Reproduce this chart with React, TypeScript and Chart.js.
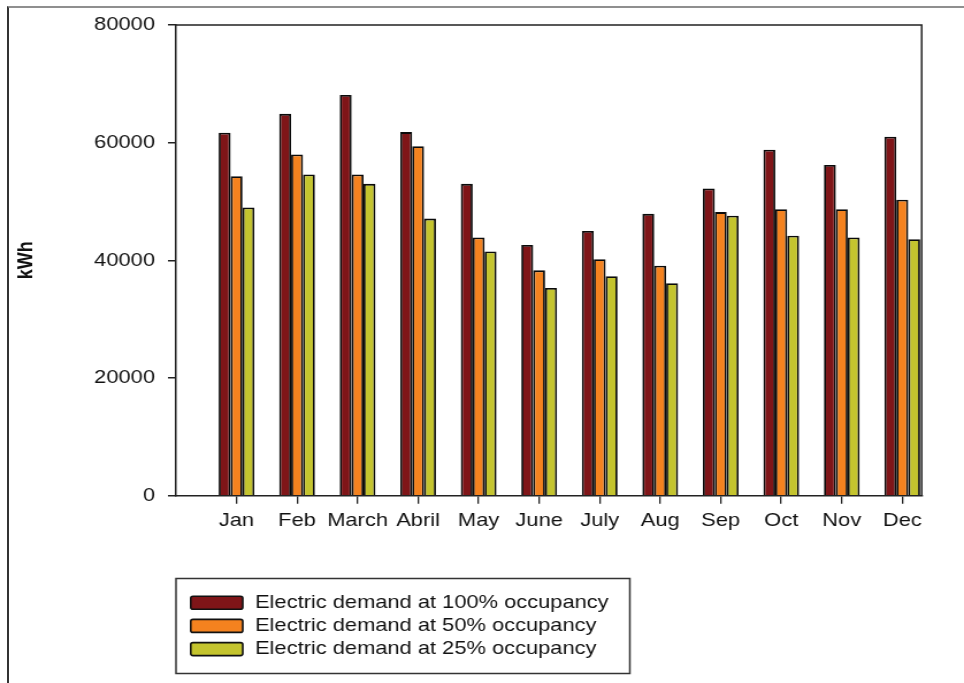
import React, { useEffect, useRef } from 'react';
import { Chart, registerables } from 'chart.js';

Chart.register(...registerables);

const months = ['Jan', 'Feb', 'March', 'Abril', 'May', 'June', 'July', 'Aug', 'Sep', 'Oct', 'Nov', 'Dec'];
const demand100 = [61700, 64900, 68100, 61800, 53000, 42600, 45000, 47900, 52200, 58800, 56200, 61000];
const demand50 = [54300, 58000, 54600, 59400, 43900, 38300, 40200, 39100, 48200, 48700, 48700, 50300];
const demand25 = [49000, 54600, 53000, 47100, 41500, 35300, 37300, 36100, 47600, 44200, 43900, 43600];
const seriesLabels = [
  'Electric demand at 100% occupancy',
  'Electric demand at 50% occupancy',
  'Electric demand at 25% occupancy',
];
const seriesColors = ['#7f1518', '#f4821f', '#c4c42e'];
const yTicks = [0, 20000, 40000, 60000, 80000];
const yTitle = 'kWh';

const FONT = '"Liberation Sans", Arial, sans-serif';
const CANVAS_W = 838;
const CANVAS_H = 683;
const STRETCH = 964 / CANVAS_W;

const boxLegendPlugin = {
  id: 'boxLegend',
  afterDraw(chart: any) {
    const ctx = chart.ctx;
    ctx.save();
    // plot frame top & right
    const { left, top, right, bottom } = chart.chartArea;
    ctx.beginPath();
    ctx.moveTo(left, top);
    ctx.lineTo(right, top);
    ctx.lineTo(right, bottom);
    ctx.strokeStyle = '#222';
    ctx.lineWidth = 1.5;
    ctx.stroke();

    // legend box
    ctx.lineWidth = 1.5;
    ctx.strokeStyle = '#333';
    ctx.strokeRect(153, 578.5, 394.5, 95);
    chart.data.datasets.forEach((ds: any, i: number) => {
      const cy = 602.7 + i * 23.2;
      ctx.beginPath();
      ctx.roundRect(165.8, cy - 6.5, 45.2, 13, 2);
      ctx.fillStyle = ds.backgroundColor;
      ctx.fill();
      ctx.lineWidth = 1.6;
      ctx.strokeStyle = '#111';
      ctx.stroke();
      ctx.fillStyle = '#111';
      ctx.font = `19px ${FONT}`;
      ctx.textBaseline = 'middle';
      ctx.textAlign = 'left';
      ctx.fillText(ds.label, 221.7, cy);
    });
    ctx.restore();
  },
};

export default function App() {
  const canvasRef = useRef<HTMLCanvasElement | null>(null);

  useEffect(() => {
    if (!canvasRef.current) return;
    const series = [demand100, demand50, demand25];
    const chart = new Chart(canvasRef.current, {
      type: 'bar',
      data: {
        datasets: series.map((vals, s) => ({
          label: seriesLabels[s],
          data: vals.map((v, i) => ({ x: i + 1, y: v })),
          backgroundColor: seriesColors[s],
          borderColor: '#0a0a0a',
          borderWidth: 1.8,
          categoryPercentage: 0.59,
          barPercentage: 1.0,
        })),
      },
      options: {
        animation: false,
        responsive: true,
        maintainAspectRatio: false,
        devicePixelRatio: 1,
        events: [],
        layout: { padding: { left: 0, top: 25, right: 36.8, bottom: 127.3 } },
        plugins: {
          legend: { display: false },
          tooltip: { enabled: false },
        },
        scales: {
          x: {
            type: 'linear',
            min: 0,
            max: 12.32,
            offset: false,
            grid: {
              offset: false,
              drawOnChartArea: false,
              drawTicks: true,
              tickLength: 8,
              color: '#222',
              lineWidth: 1.3,
            },
            border: { display: true, color: '#222', width: 1.5 },
            ticks: {
              autoSkip: false,
              maxRotation: 0,
              minRotation: 0,
              padding: 6,
              color: '#111',
              font: { family: FONT, size: 19 },
              callback: (value: any) => {
                const idx = Math.round(Number(value)) - 1;
                return months[idx] ?? '';
              },
            },
            afterBuildTicks: (scale: any) => {
              scale.ticks = months.map((_, i) => ({ value: i + 1 }));
            },
            afterFit: (scale: any) => {
              scale.height = 60;
            },
          },
          y: {
            type: 'linear',
            min: 0,
            max: 80000,
            grid: {
              drawOnChartArea: false,
              drawTicks: true,
              tickLength: 7,
              color: '#222',
              lineWidth: 1.5,
            },
            border: { display: true, color: '#222', width: 1.5 },
            ticks: {
              padding: 11.3,
              color: '#111',
              font: { family: FONT, size: 19 },
              callback: (value: any) => String(value),
            },
            afterBuildTicks: (scale: any) => {
              scale.ticks = yTicks.map((v) => ({ value: v }));
            },
            title: {
              display: true,
              text: yTitle,
              color: '#111',
              font: { family: FONT, size: 18, weight: 'bold' },
              padding: { top: 12.5, bottom: 0 },
            },
            afterFit: (scale: any) => {
              scale.width = 153;
            },
          },
        },
      },
      plugins: [boxLegendPlugin],
    } as any);
    return () => chart.destroy();
  }, []);

  return (
    <>
      <div
        style={{
          position: 'fixed',
          left: 7,
          top: 6,
          width: 1000,
          height: 700,
          borderTop: '2px solid #8f8f8f',
          borderLeft: '2px solid #333',
          boxSizing: 'border-box',
        }}
      />
      <div
        style={{
          position: 'fixed',
          left: 0,
          top: 0,
          width: CANVAS_W,
          height: CANVAS_H,
          transform: `scaleX(${STRETCH})`,
          transformOrigin: '0 0',
        }}
      >
        <canvas ref={canvasRef} />
      </div>
    </>
  );
}
